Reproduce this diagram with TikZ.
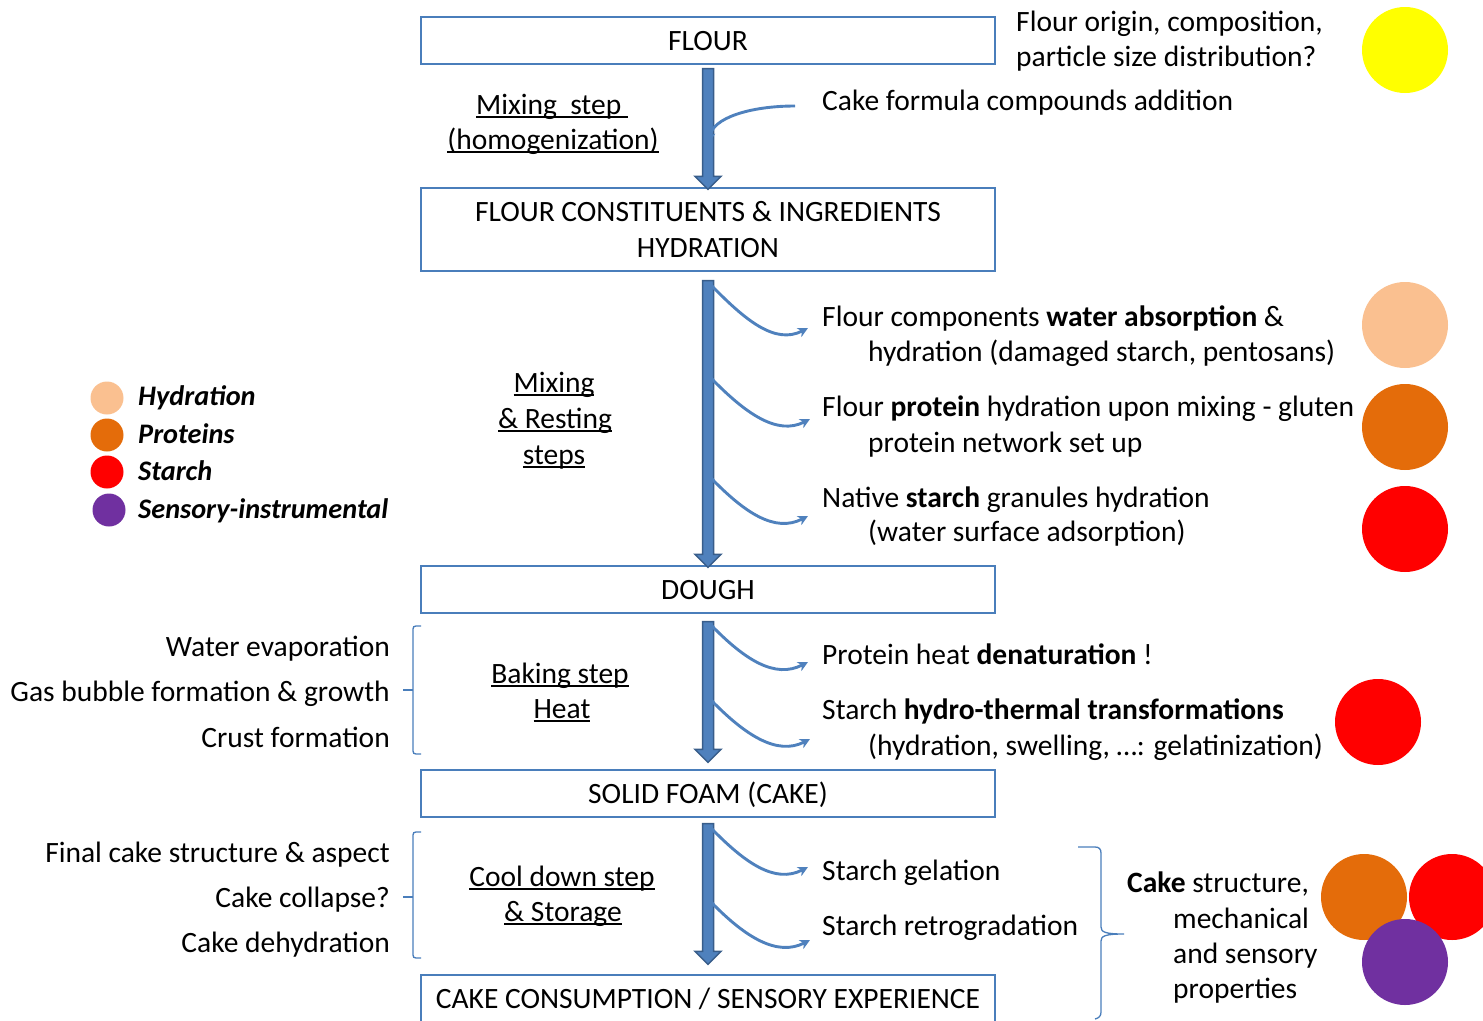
\documentclass[tikz,border=0pt]{standalone}
\usepackage{fontspec}
\setmainfont{Carlito}
\usetikzlibrary{arrows.meta,calc}
\definecolor{bA}{HTML}{4F81BD}
\definecolor{bD}{HTML}{385D8A}
\definecolor{bx}{HTML}{4A7EBB}
\definecolor{peach}{HTML}{FAC090}
\definecolor{orng}{HTML}{E46C0A}
\definecolor{purp}{HTML}{7030A0}
\definecolor{yel}{HTML}{FFFF00}
\definecolor{rd}{HTML}{FF0000}
\newcommand\myul[1]{\setbox0\hbox{#1}\rlap{\rule[-0.14em]{\wd0}{0.065em}}\box0}
\newcommand\bigarr[2]{\draw[bigarrow] let \p1=(#1), \p2=(#2) in
  (\x1-5.5pt,\y1) -- (\x1+5.5pt,\y1) -- (\x1+5.5pt,\y2+13pt) -- (\x1+13pt,\y2+13pt)
  -- (\x1,\y2) -- (\x1-13pt,\y2+13pt) -- (\x1-5.5pt,\y2+13pt) -- cycle;}
\newcommand\curvarr[2]{\draw[curv] (#1) .. controls ($(#1)+(34,35)$) and ($(#2)+(-33,17)$) .. (#2);}
\begin{document}
\begin{tikzpicture}[x=1pt,y=-1pt,
 every node/.style={font=\fontsize{29.5}{36}\selectfont, inner sep=0pt},
 stage/.style={draw=bx, line width=1.3pt, minimum width=574pt, align=center},
 one/.style={minimum height=47pt, text height=20pt, text depth=0pt},
 lt/.style={anchor=base west},
 rt/.style={anchor=base east},
 ct/.style={anchor=base},
 leg/.style={anchor=base west, font=\fontsize{28.3}{36}\selectfont\bfseries\itshape},
 curv/.style={draw=bA, line width=2.9pt, -{Stealth[length=10pt,width=10pt,inset=3pt]}},
 bigarrow/.style={fill=bA, draw=bD, line width=1.5pt, line join=miter},
 dot/.style={circle, minimum size=86pt, inner sep=0pt},
 ldot/.style={circle, minimum size=33pt, inner sep=0pt},
 brace/.style={draw=bx, line width=1.3pt},
]
\useasboundingbox (0,0) rectangle (1483,1020);
% stages
\node[stage, one] (flour) at (708,40.5) {FLOUR};
\node[stage, minimum height=83pt] (hyd) at (708,229.5) {FLOUR CONSTITUENTS \& INGREDIENTS\\HYDRATION};
\node[stage, one] (dough) at (708,589.5) {DOUGH};
\node[stage, one] (foam) at (708,793.5) {SOLID FOAM (CAKE)};
\node[stage, one] (cons) at (708,998.5) {CAKE CONSUMPTION / SENSORY EXPERIENCE};
% main arrows
\bigarr{[yshift=-4pt]flour.south}{[yshift=-2pt]hyd.north}
\bigarr{[yshift=-9pt]hyd.south}{[yshift=-2pt]dough.north}
\bigarr{[yshift=-8pt]dough.south}{[yshift=7pt]foam.north}
\bigarr{[yshift=-6pt]foam.south}{[yshift=10pt]cons.north}
% curved arrows
\coordinate (c0s) at (795,106); \coordinate (c0e) at (709,143);
\draw[curv] (c0s) .. controls (750,106) and (712,118) .. (c0e);
\coordinate (c1s) at (711,285); \coordinate (c1e) at (808,328);
\coordinate (c2s) at (711,378); \coordinate (c2e) at (810,419);
\coordinate (c3s) at (711,478); \coordinate (c3e) at (808,516);
\coordinate (c4s) at (711,625); \coordinate (c4e) at (808,662);
\coordinate (c5s) at (711,700); \coordinate (c5e) at (810,739);
\coordinate (c6s) at (711,828); \coordinate (c6e) at (808,867);
\coordinate (c7s) at (711,902); \coordinate (c7e) at (810,940);
\curvarr{c1s}{c1e}
\curvarr{c2s}{c2e}
\curvarr{c3s}{c3e}
\curvarr{c4s}{c4e}
\curvarr{c5s}{c5e}
\curvarr{c6s}{c6e}
\curvarr{c7s}{c7e}
% step labels
\node[ct] (m1) at (552,114) {\myul{Mixing\ \ step\ }};
\node[ct] (m2) at (553,149) {\myul{(homogenization)}};
\node[ct] (m3) at (554,392) {\myul{Mixing}};
\node[ct] (m4) at (555,428) {\myul{\& Resting}};
\node[ct] (m5) at (554,464) {\myul{steps}};
\node[ct] (b1) at (560,683) {\myul{Baking step}};
\node[ct] (b2) at (562,718) {\myul{Heat}};
\node[ct] (s1) at (562,886) {\myul{Cool down step}};
\node[ct] (s2) at (563,921) {\myul{\& Storage}};
% right texts
\node[lt] (r0) at (822,110) {Cake formula compounds addition};
\node[lt] (o1) at (1016,31) {Flour origin, composition,};
\node[lt] (o2) at (1016,66) {particle size distribution?};
\node[lt] (r1a) at (822,326) {Flour components \textbf{water absorption} \&};
\node[lt] (r1b) at (868,361) {hydration (damaged starch, pentosans)};
\node[lt] (r2a) at (822,416) {Flour \textbf{protein} hydration upon mixing - gluten};
\node[lt] (r2b) at (868,452) {protein network set up};
\node[lt] (r3a) at (822,507) {Native \textbf{starch} granules hydration};
\node[lt] (r3b) at (868,541) {(water surface adsorption)};
\node[lt] (r4) at (822,664) {Protein heat \textbf{denaturation} !};
\node[lt] (r5a) at (822,719) {Starch \textbf{hydro-thermal transformations}};
\node[lt] (r5b) at (868,755) {(hydration, swelling, \dots: gelatinization)};
\node[lt] (r6) at (822,880) {Starch gelation};
\node[lt] (r7) at (822,935) {Starch retrogradation};
\node[lt] (k1) at (1127,892) {\textbf{Cake} structure,};
\node[lt] (k2) at (1173,928) {mechanical};
\node[lt] (k3) at (1173,963) {and sensory};
\node[lt] (k4) at (1173,998) {properties};
% left texts
\node[rt] (l1) at (390,656) {Water evaporation};
\node[rt] (l2) at (390,701) {Gas bubble formation \& growth};
\node[rt] (l3) at (390,747) {Crust formation};
\node[rt] (l4) at (390,862) {Final cake structure \& aspect};
\node[rt] (l5) at (390,907) {Cake collapse?};
\node[rt] (l6) at (390,952) {Cake dehydration};
% legend
\node[ldot, fill=peach] (d1) at (107,398) {};
\node[ldot, fill=orng] (d2) at (107,435) {};
\node[ldot, fill=rd] (d3) at (107,472) {};
\node[ldot, fill=purp] (d4) at (109,510) {};
\node[leg] (g1) at (138,405) {Hydration};
\node[leg] (g2) at (138,443) {Proteins};
\node[leg] (g3) at (138,480) {Starch};
\node[leg] (g4) at (138,518) {Sensory-instrumental};
% big dots
\node[dot, fill=yel] (y1) at (1405,50) {};
\node[dot, fill=peach] (y2) at (1405,325) {};
\node[dot, fill=orng] (y3) at (1405,427) {};
\node[dot, fill=rd] (y4) at (1405,529) {};
\node[dot, fill=rd] (y5) at (1378,722) {};
\node[dot, fill=orng] (y6) at (1364,897) {};
\node[dot, fill=rd] (y7) at (1452,897) {};
\node[dot, fill=purp] (y8) at (1405,962) {};
% braces
\draw[brace] (421,626) -- (416,626) .. controls (414,626) and (413,627) .. (413,629) -- (413,751)
  .. controls (413,753) and (414,754) .. (416,754) -- (421,754);
\draw[brace] (403,690) -- (413,690);
\draw[brace] (421,832) -- (416,832) .. controls (414,832) and (413,833) .. (413,835) -- (413,955)
  .. controls (413,957) and (414,958) .. (416,958) -- (421,958);
\draw[brace] (403,897) -- (413,897);
\draw[brace] (1078,847) -- (1095,847) .. controls (1099,847) and (1101,849) .. (1101,853) -- (1101,927)
  .. controls (1101,932) and (1105,934) .. (1124,934)
  .. controls (1105,934) and (1101,936) .. (1101,941) -- (1101,1012)
  .. controls (1101,1016) and (1099,1018) .. (1095,1019);
\end{tikzpicture}
\end{document}
